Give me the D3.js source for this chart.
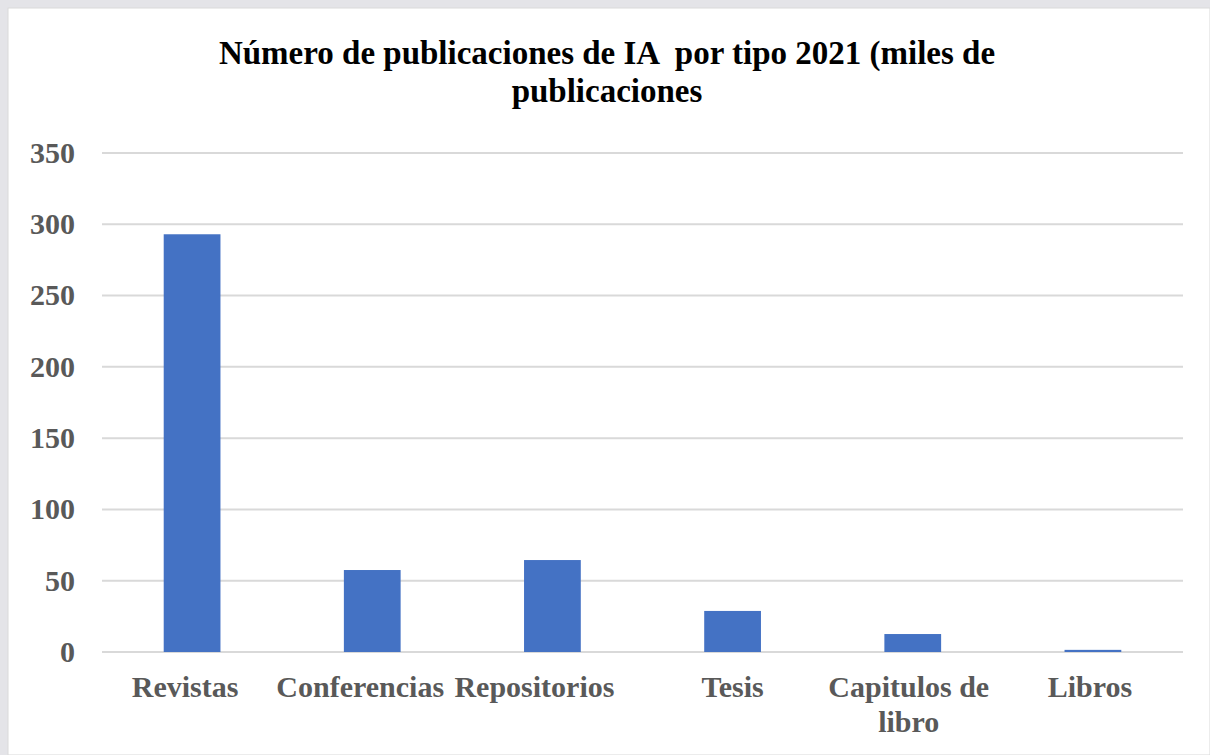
<!DOCTYPE html>
<html>
<head>
<meta charset="utf-8">
<script src="https://cdn.jsdelivr.net/npm/d3@7"></script>
<style>
  body { margin: 0; background: #e4e4e8; }
  svg { display: block; }
</style>
</head>
<body>
<svg></svg>
<script>
// data (thousands of publications)
var categories = ["Revistas", "Conferencias", "Repositorios", "Tesis", "Capitulos de libro", "Libros"];
var values = [293, 57.5, 64.5, 28.8, 12.6, 1.5];
var yTicks = [0, 50, 100, 150, 200, 250, 300, 350];
var titleLines = ["Número de publicaciones de IA  por tipo 2021 (miles de", "publicaciones"];

var width = 1210, height = 755;
var serif = "'Liberation Serif', 'Times New Roman', serif";
var svg = d3.select("svg").attr("width", width).attr("height", height);

// white chart panel
svg.append("rect")
  .attr("x", 8).attr("y", 8)
  .attr("width", width - 8).attr("height", height - 8)
  .attr("fill", "#fff")
  .attr("stroke", "#d9d9d9");

var x = d3.scaleBand().domain(categories).range([102, 1183]).paddingInner(0.685).paddingOuter(0.3425);
var y = d3.scaleLinear().domain([0, 350]).range([652, 153]);

// gridlines
svg.append("g").selectAll("line")
  .data(yTicks)
  .join("line")
    .attr("x1", 102).attr("x2", 1183)
    .attr("y1", d => y(d)).attr("y2", d => y(d))
    .attr("stroke", "#d9d9d9").attr("stroke-width", 2);

// y tick labels
svg.append("g").selectAll("text")
  .data(yTicks)
  .join("text")
    .attr("x", 75).attr("y", d => y(d))
    .attr("dy", "0.33em")
    .attr("text-anchor", "end")
    .attr("font-family", serif)
    .attr("font-weight", "bold").attr("font-size", 30)
    .attr("fill", "#595959")
    .text(d => d);

// bars
svg.append("g").selectAll("rect")
  .data(values)
  .join("rect")
    .attr("x", (d, i) => x(categories[i]))
    .attr("width", x.bandwidth())
    .attr("y", d => y(d))
    .attr("height", d => y(0) - y(d))
    .attr("fill", "#4472c4");

// category labels (wrap the long one; the first three are squeezed left like in the original)
var wrap = { "Capitulos de libro": ["Capitulos de", "libro"] };
var nudge = { "Revistas": -7, "Conferencias": -12, "Repositorios": -18, "Capitulos de libro": -4, "Libros": -3 };
svg.append("g").selectAll("text")
  .data(categories)
  .join("text")
    .attr("text-anchor", "middle")
    .attr("font-family", serif)
    .attr("font-weight", "bold").attr("font-size", 30)
    .attr("fill", "#595959")
  .each(function(d) {
    var lines = wrap[d] || [d];
    var t = d3.select(this);
    lines.forEach(function(l, i) {
      t.append("tspan")
        .attr("x", x(d) + x.bandwidth() / 2 + (nudge[d] || 0))
        .attr("y", 697 + i * 35)
        .text(l);
    });
  });

// title
svg.append("text")
  .attr("text-anchor", "middle")
  .attr("font-family", serif)
  .attr("font-weight", "bold").attr("font-size", 33)
  .attr("fill", "#000")
  .style("white-space", "pre")
  .selectAll("tspan")
  .data(titleLines)
  .join("tspan")
    .attr("x", 607)
    .attr("y", (d, i) => 64 + i * 38)
    .text(d => d);
</script>
</body>
</html>
